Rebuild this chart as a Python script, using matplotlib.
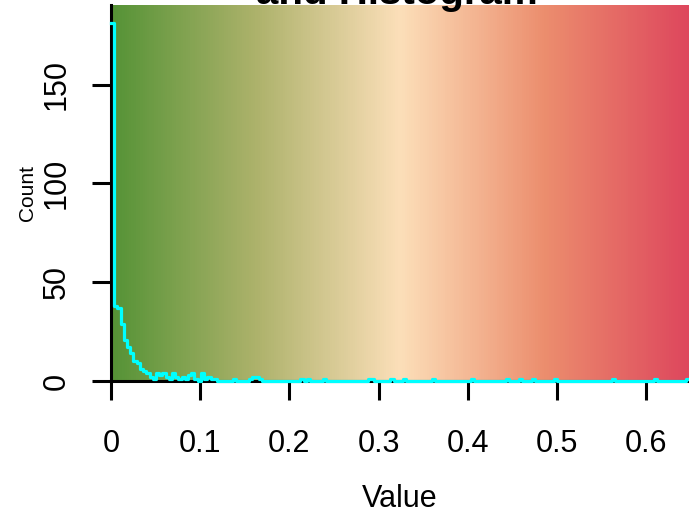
import numpy as np
import matplotlib
matplotlib.use('Agg')
import matplotlib.pyplot as plt
from matplotlib.colors import LinearSegmentedColormap

plt.rcParams['font.family'] = ['Liberation Sans', 'DejaVu Sans']

# histogram of values (bin width 0.0036, 180 bins from 0 to 0.648)
bin_width = 0.0036
n_bins = 180
head_counts = [181, 38, 37, 29, 21, 17, 14, 10, 9, 6, 5, 4, 2, 1, 4, 3, 4, 2, 1, 4,
               2, 1, 2, 1, 3, 4, 1, 0, 4, 1, 2, 1, 1, 0, 0, 0, 0, 0, 1, 0,
               0, 0, 0, 1, 2, 2, 1]
tail_bins = [59, 61, 66, 80, 81, 87, 91, 100, 112, 123, 127, 131, 138, 156, 169, 179]
tail_counts = [1] * len(tail_bins)

x_ticks = [0, 0.1, 0.2, 0.3, 0.4, 0.5, 0.6]
x_tick_labels = ['0', '0.1', '0.2', '0.3', '0.4', '0.5', '0.6']
y_ticks = [0, 50, 100, 150]

# colour key: green -> beige -> red
key_colors = ['#559336', '#adb26b', '#fcdfb9', '#ec8e6e', '#de475d']

counts = np.zeros(n_bins)
counts[:len(head_counts)] = head_counts
counts[tail_bins] = tail_counts
breaks = np.arange(n_bins + 1) * bin_width
x_max = breaks[-1]
y_max = counts.max() / 0.95

fig = plt.figure(figsize=(6.89, 5.25), dpi=100)
ax = fig.add_axes([111 / 689, 1 - 381 / 525, 1 - 111 / 689, 376.5 / 525])

cmap = LinearSegmentedColormap.from_list('key', key_colors, N=256)
grad = np.linspace(0, 1, 256).reshape(1, -1)
ax.imshow(grad, cmap=cmap, aspect='auto', extent=[0, x_max, 0, y_max],
          origin='lower', interpolation='nearest')

# histogram outline drawn as steps over the colour key
hy = np.append(counts, counts[-1])
ax.step(breaks, hy, where='post', color='cyan', lw=2.3, clip_on=False, zorder=3)

ax.set_xlim(0, x_max)
ax.set_ylim(0, y_max)
ax.set_xticks(x_ticks)
ax.set_xticklabels(x_tick_labels)
ax.set_yticks(y_ticks)
ax.tick_params(direction='out', length=13.5, width=2.2, labelsize=22, colors='black')
ax.tick_params(axis='x', pad=21)
ax.tick_params(axis='y', pad=15)
plt.setp(ax.get_yticklabels(), rotation=90, va='center')

for side in ['left', 'bottom']:
    ax.spines[side].set_linewidth(2.2)
    ax.spines[side].set_zorder(2)
ax.spines['top'].set_visible(False)
ax.spines['right'].set_visible(False)

fig.text(400 / 689, 1 - 507 / 525, 'Value', ha='center', va='baseline', fontsize=22)
fig.text(27 / 689, 1 - 193 / 525, 'Count', ha='center', va='center', rotation=90, fontsize=15)
# title sits partly above the top edge, as in the reference
fig.text(397 / 689, 1 - 12 / 525, 'Color Key\nand Histogram', ha='center', va='bottom',
         fontsize=29, fontweight='bold', linespacing=1.0)

fig.savefig('out.png', dpi=100)
